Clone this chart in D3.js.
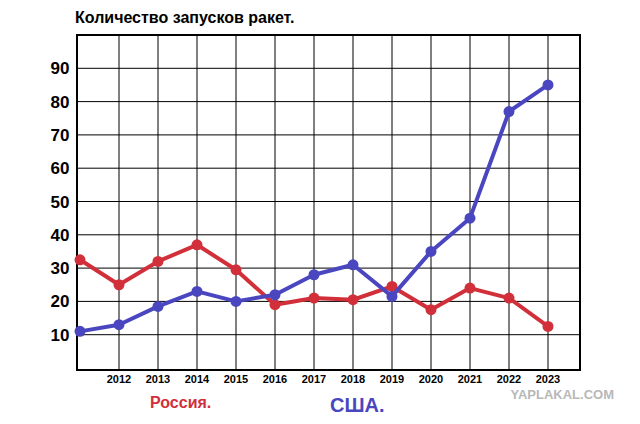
<!DOCTYPE html>
<html><head><meta charset="utf-8">
<script src="https://cdn.jsdelivr.net/npm/d3@7"></script>
<style>body{margin:0;background:#fff}</style>
</head><body><svg id="c" width="640" height="424"></svg>
<script>
const years = [2011, 2012, 2013, 2014, 2015, 2016, 2017, 2018, 2019, 2020, 2021, 2022, 2023];
const yearLabels = ["", "2012", "2013", "2014", "2015", "2016", "2017", "2018", "2019", "2020", "2021", "2022", "2023"];
const russia = [32.5, 25, 32, 37, 29.5, 19, 21, 20.5, 24.5, 17.5, 24, 21, 12.5];
const usa = [11, 13, 18.5, 23, 20, 22, 28, 31, 21.5, 35, 45, 77, 85];
const yTicks = [10, 20, 30, 40, 50, 60, 70, 80, 90];

const svg = d3.select("#c");
const x = d3.scaleLinear().domain([2011, 2023]).range([80, 548]);
const y = d3.scaleLinear().domain([0, 100]).range([368, 35]);
const plot = { left: 77, right: 580, top: 35, bottom: 370 };

// grid
svg.append("g").selectAll("line").data(years.slice(1)).join("line")
  .attr("x1", d => x(d)).attr("x2", d => x(d)).attr("y1", plot.top).attr("y2", plot.bottom)
  .attr("stroke", "#000").attr("stroke-width", 1);
svg.append("g").selectAll("line").data(yTicks).join("line")
  .attr("x1", plot.left).attr("x2", plot.right).attr("y1", d => y(d)).attr("y2", d => y(d))
  .attr("stroke", "#000").attr("stroke-width", 1);
svg.append("rect").attr("x", plot.left).attr("y", plot.top)
  .attr("width", plot.right - plot.left).attr("height", plot.bottom - plot.top)
  .attr("fill", "none").attr("stroke", "#000").attr("stroke-width", 2);

// axis labels
svg.append("g").selectAll("text").data(yTicks).join("text")
  .attr("x", 60).attr("y", d => y(d) + 6).attr("text-anchor", "middle")
  .attr("font-family", "Arial, Liberation Sans").attr("font-weight", "bold").attr("font-size", 17)
  .text(d => d);
svg.append("g").selectAll("text").data(years).join("text")
  .attr("x", d => x(d)).attr("y", 383).attr("text-anchor", "middle")
  .attr("font-family", "Arial, Liberation Sans").attr("font-weight", "bold").attr("font-size", 11)
  .text((d, i) => yearLabels[i]);

const line = d3.line().x((d, i) => x(years[i])).y(d => y(d));
function series(vals, color) {
  svg.append("path").datum(vals).attr("d", line).attr("fill", "none")
    .attr("stroke", color).attr("stroke-width", 4).attr("stroke-linejoin", "round");
  svg.append("g").selectAll("circle").data(vals).join("circle")
    .attr("cx", (d, i) => x(years[i])).attr("cy", d => y(d)).attr("r", 5.5).attr("fill", color);
}
series(russia, "#d1303a");
series(usa, "#4a46c0");

svg.append("text").attr("x", 75).attr("y", 23)
  .attr("font-family", "Arial, Liberation Sans").attr("font-weight", "bold").attr("font-size", 16)
  .text("Количество запусков ракет.");
svg.append("text").attr("x", 150).attr("y", 408).attr("fill", "#d1303a")
  .attr("font-family", "Arial, Liberation Sans").attr("font-weight", "bold").attr("font-size", 16)
  .text("Россия.");
svg.append("text").attr("x", 330).attr("y", 412).attr("fill", "#4a46c0")
  .attr("font-family", "Arial, Liberation Sans").attr("font-weight", "bold").attr("font-size", 20)
  .text("США.");
svg.append("text").attr("x", 614).attr("y", 399).attr("text-anchor", "end").attr("fill", "#b8b8b8")
  .attr("font-family", "Arial, Liberation Sans").attr("font-weight", "bold").attr("font-size", 13)
  .text("YAPLAKAL.COM");
</script></body></html>
